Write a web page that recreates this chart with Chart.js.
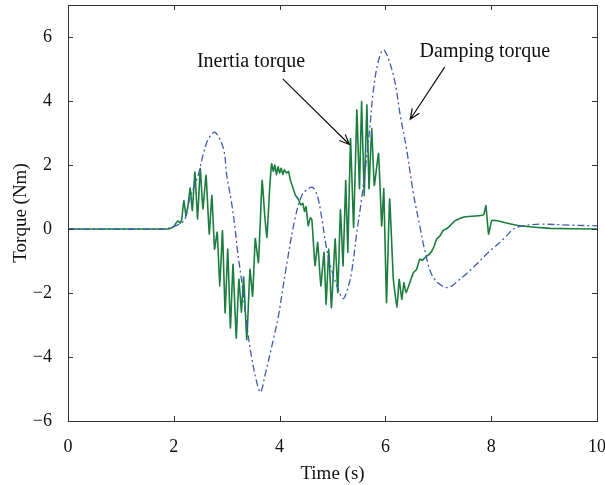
<!DOCTYPE html>
<html>
<head>
<meta charset="utf-8">
<script src="https://cdn.jsdelivr.net/npm/chart.js@4/dist/chart.umd.min.js"></script>
<style>
  html, body { margin: 0; padding: 0; background: #fff; }
  #wrap { width: 605px; height: 485px; }
</style>
</head>
<body>
<div id="wrap"><canvas id="torqueChart" width="605" height="485"></canvas></div>
<script>
// Inertia torque (green, noisy)
const inertiaTime = [0, 1.0, 1.9, 1.95, 2.0, 2.05, 2.08, 2.12, 2.15, 2.19, 2.23, 2.27, 2.31, 2.35, 2.40, 2.45, 2.50, 2.55, 2.61, 2.67, 2.72, 2.77, 2.82, 2.87, 2.92, 2.97, 3.02, 3.07, 3.12, 3.18, 3.23, 3.28, 3.32, 3.38, 3.44, 3.49, 3.54, 3.60, 3.67, 3.72, 3.76, 3.81, 3.85, 3.88, 3.91, 3.94, 3.97, 4.00, 4.03, 4.06, 4.09, 4.13, 4.17, 4.20, 4.25, 4.30, 4.35, 4.40, 4.44, 4.47, 4.50, 4.54, 4.58, 4.61, 4.67, 4.72, 4.78, 4.84, 4.88, 4.93, 4.98, 5.05, 5.10, 5.15, 5.20, 5.25, 5.29, 5.34, 5.40, 5.46, 5.51, 5.55, 5.60, 5.65, 5.69, 5.74, 5.79, 5.87, 5.93, 5.97, 6.02, 6.08, 6.15, 6.22, 6.26, 6.31, 6.35, 6.39, 6.46, 6.53, 6.59, 6.65, 6.70, 6.75, 6.82, 6.88, 6.93, 6.97, 7.03, 7.09, 7.15, 7.22, 7.32, 7.47, 7.65, 7.80, 7.86, 7.90, 7.95, 8.01, 8.12, 8.23, 8.54, 9.11, 10];
const inertiaTorque = [0, 0, 0, 0.03, 0.08, 0.2, 0.26, 0.18, 0.3, 0.89, 0.42, 0.75, 1.28, 0.58, 1.78, 0.31, 1.89, 0.63, 1.68, -0.16, 1.05, -0.63, -0.1, -1.78, -0.05, -2.62, -0.63, -3.09, -1.10, -3.41, -1.57, -2.6, -1.5, -3.46, -1.26, -2.1, -0.3, -1.05, 1.52, 0.4, -0.26, 1.2, 2.04, 1.8, 2.0, 1.7, 1.95, 1.75, 1.9, 1.7, 1.85, 1.75, 1.8, 1.55, 1.3, 1.05, 0.95, 0.75, 0.8, 0.55, 0.7, 0.1, 0.35, 0.29, -1.15, -0.42, -1.78, -0.73, -2.36, -0.63, -2.46, -0.31, -1.99, 0.6, -1.15, 1.52, -0.73, 2.83, 0.05, 3.72, 1.26, 3.98, 1.05, 3.88, 1.26, 3.14, 1.36, 2.36, 0.1, 1.26, -2.3, 0.94, -1.57, -2.46, -1.57, -2.2, -1.68, -2.0, -1.68, -1.36, -1.26, -0.94, -0.98, -0.89, -0.8, -0.68, -0.5, -0.31, -0.22, -0.05, 0.0, 0.1, 0.26, 0.37, 0.4, 0.42, 0.45, 0.73, -0.16, 0.26, 0.26, 0.21, 0.1, 0.02, 0];

// Damping torque (blue, dash-dot)
const dampTime = [0, 1.8, 1.95, 2.1, 2.21, 2.3, 2.46, 2.56, 2.65, 2.78, 2.94, 3.0, 3.09, 3.16, 3.2, 3.28, 3.38, 3.47, 3.57, 3.64, 3.72, 3.91, 3.98, 4.13, 4.29, 4.42, 4.54, 4.63, 4.72, 4.8, 4.89, 4.98, 5.11, 5.2, 5.28, 5.36, 5.46, 5.55, 5.65, 5.71, 5.77, 5.86, 5.96, 6.05, 6.18, 6.28, 6.4, 6.53, 6.65, 6.75, 6.9, 7.16, 7.41, 7.66, 7.98, 8.13, 8.3, 8.42, 8.6, 8.92, 9.5, 10];
const dampTorque = [0, 0, 0.05, 0.15, 0.31, 0.94, 1.68, 2.36, 2.8, 3.02, 2.5, 1.68, 0.84, 0, -0.63, -1.6, -3.0, -4.0, -4.8, -5.1, -4.6, -3.25, -2.7, -1.15, 0.31, 1.05, 1.26, 1.3, 1.0, 0.31, -0.63, -1.26, -1.89, -2.18, -1.9, -1.36, -0.1, 0.94, 2.3, 3.25, 4.3, 5.2, 5.6, 5.35, 4.6, 3.56, 2.5, 1.1, 0.1, -0.7, -1.5, -1.83, -1.57, -1.2, -0.68, -0.47, -0.2, 0, 0.1, 0.15, 0.12, 0.1];

const xTicks = [0, 2, 4, 6, 8, 10];
const yTicks = [-6, -4, -2, 0, 2, 4, 6];

// annotation text and arrows, in data units
const notes = [
  { text: 'Inertia torque', x: 3.46, y: 5.22, from: [4.06, 4.69], to: [5.32, 2.64] },
  { text: 'Damping torque', x: 7.88, y: 5.53, from: [7.12, 5.06], to: [6.47, 3.43] }
];

const serif = "'Liberation Serif', 'DejaVu Serif', serif";

const framePlugin = {
  id: 'frame',
  afterDraw(chart) {
    const ctx = chart.ctx;
    const a = chart.chartArea;
    const xs = chart.scales.x, ys = chart.scales.y;
    ctx.save();
    ctx.strokeStyle = '#333';
    ctx.lineWidth = 1;
    ctx.strokeRect(a.left + 0.5, a.top + 0.5, a.right - a.left, a.bottom - a.top);
    ctx.beginPath();
    xTicks.forEach(v => {
      const px = Math.round(xs.getPixelForValue(v)) + 0.5;
      ctx.moveTo(px, a.bottom); ctx.lineTo(px, a.bottom - 5);
      ctx.moveTo(px, a.top); ctx.lineTo(px, a.top + 5);
    });
    yTicks.forEach(v => {
      const py = Math.round(ys.getPixelForValue(v)) + 0.5;
      ctx.moveTo(a.left, py); ctx.lineTo(a.left + 5, py);
      ctx.moveTo(a.right, py); ctx.lineTo(a.right - 5, py);
    });
    ctx.stroke();

    // annotations
    ctx.fillStyle = '#111';
    ctx.strokeStyle = '#111';
    ctx.font = '20px ' + serif;
    ctx.textAlign = 'center';
    ctx.textBaseline = 'middle';
    notes.forEach(n => {
      ctx.fillText(n.text, xs.getPixelForValue(n.x), ys.getPixelForValue(n.y));
      const x1 = xs.getPixelForValue(n.from[0]), y1 = ys.getPixelForValue(n.from[1]);
      const x2 = xs.getPixelForValue(n.to[0]), y2 = ys.getPixelForValue(n.to[1]);
      const ang = Math.atan2(y2 - y1, x2 - x1);
      ctx.beginPath();
      ctx.lineWidth = 1.2;
      ctx.moveTo(x1, y1); ctx.lineTo(x2, y2);
      ctx.moveTo(x2 - 11 * Math.cos(ang - 0.4), y2 - 11 * Math.sin(ang - 0.4));
      ctx.lineTo(x2, y2);
      ctx.lineTo(x2 - 11 * Math.cos(ang + 0.4), y2 - 11 * Math.sin(ang + 0.4));
      ctx.stroke();
    });
    ctx.restore();
  }
};

const chart = new Chart(document.getElementById('torqueChart').getContext('2d'), {
  type: 'line',
  data: {
    datasets: [{
      label: 'Damping torque',
      data: dampTime.map((t, i) => ({ x: t, y: dampTorque[i] })),
      borderColor: '#3d5cb3',
      borderWidth: 1.3,
      borderDash: [7, 3, 2, 3],
      pointRadius: 0,
      tension: 0.35,
      fill: false
    }, {
      label: 'Inertia torque',
      data: inertiaTime.map((t, i) => ({ x: t, y: inertiaTorque[i] })),
      borderColor: '#1b7d3e',
      borderWidth: 1.6,
      pointRadius: 0,
      tension: 0.1,
      fill: false
    }]
  },
  options: {
    responsive: false,
    animation: false,
    layout: { padding: { top: 5, right: 8, left: 10, bottom: 0 } },
    plugins: { legend: { display: false }, tooltip: { enabled: false } },
    scales: {
      x: {
        type: 'linear',
        min: 0, max: 10,
        afterBuildTicks: s => { s.ticks = xTicks.map(v => ({ value: v })); },
        afterFit: s => { s.height = 64; s.paddingLeft = 0; s.paddingRight = 0; },
        grid: { display: false },
        border: { display: false },
        ticks: { color: '#111', font: { family: serif, size: 18 }, padding: 7 },
        title: { display: true, text: 'Time (s)', color: '#111', font: { family: serif, size: 19 }, padding: { top: 1, bottom: 0 } }
      },
      y: {
        min: -6, max: 7,
        afterBuildTicks: s => { s.ticks = yTicks.map(v => ({ value: v })); },
        afterFit: s => { s.width = 58; s.paddingTop = 0; s.paddingBottom = 0; },
        grid: { display: false },
        border: { display: false },
        ticks: {
          color: '#111', font: { family: serif, size: 18 }, padding: 8,
          callback: v => (v < 0 ? '\u2212' + Math.abs(v) : String(v))
        },
        title: { display: true, text: 'Torque (Nm)', color: '#111', font: { family: serif, size: 19 }, padding: { top: 0, bottom: 4 } }
      }
    }
  },
  plugins: [framePlugin]
});
</script>
</body>
</html>
